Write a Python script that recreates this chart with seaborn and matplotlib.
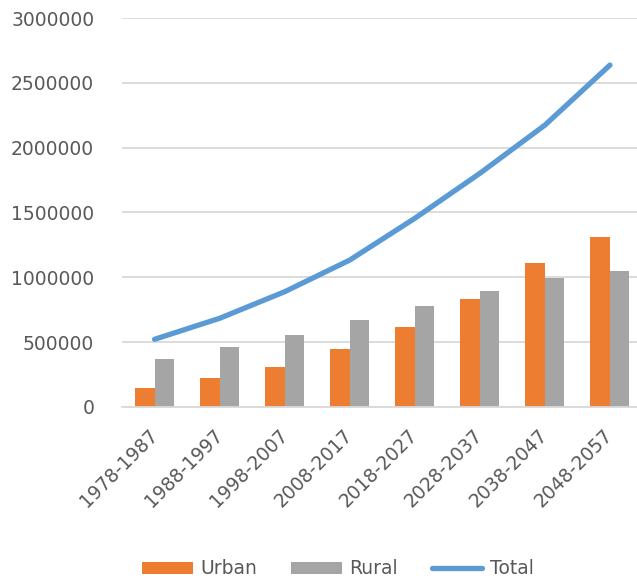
import numpy as np
import pandas as pd
import matplotlib
matplotlib.use("Agg")
import matplotlib.pyplot as plt
from matplotlib.patches import Patch
from matplotlib.lines import Line2D
import seaborn as sns

# Population by decade
periods = ["1978-1987", "1988-1997", "1998-2007", "2008-2017",
           "2018-2027", "2028-2037", "2038-2047", "2048-2057"]
urban = [149000, 226000, 311000, 445000, 619000, 833000, 1108000, 1313000]
rural = [368000, 460000, 555000, 671000, 781000, 897000, 992000, 1051000]
total = [522000, 684000, 889000, 1133000, 1455000, 1802000, 2174000, 2637000]
y_ticks = [0, 500000, 1000000, 1500000, 2000000, 2500000, 3000000]

ORANGE = "#ED7D31"
GRAY = "#A5A5A5"
BLUE = "#5B9BD5"
TEXT = "#595959"
GRID = "#D9D9D9"

sns.set_theme(style="white")
plt.rcParams["font.family"] = ["DejaVu Sans"]

df = pd.DataFrame({
    "Period": periods * 2,
    "Value": urban + rural,
    "Series": ["Urban"] * len(periods) + ["Rural"] * len(periods),
})

W, H = 637, 581
fig = plt.figure(figsize=(W / 100, H / 100), dpi=100)
left, right = 122, 642.5
top, bottom = 18, 407
ax = fig.add_axes([left / W, 1 - bottom / H, (right - left) / W, (bottom - top) / H])

sns.barplot(data=df, x="Period", y="Value", hue="Series",
            palette={"Urban": ORANGE, "Rural": GRAY},
            width=0.6, gap=0, saturation=1, errorbar=None, ax=ax, legend=False,
            linewidth=0, edgecolor="none")
sns.pointplot(x=periods, y=total, color=BLUE, markers="", linestyles="-",
              linewidth=3.8, errorbar=None, ax=ax)
for ln in ax.lines:
    ln.set_solid_capstyle("round")
    ln.set_solid_joinstyle("round")

ax.set_xlim(-0.5, 7.5)
ax.set_ylim(0, 3000000)
ax.set_yticks(y_ticks)
ax.set_yticklabels([str(v) for v in y_ticks])
ax.set_xlabel("")
ax.set_ylabel("")
ax.yaxis.grid(True, color=GRID, linewidth=1.3)
ax.set_axisbelow(True)
for s in ["top", "right", "left"]:
    ax.spines[s].set_visible(False)
ax.spines["bottom"].set_color(GRID)
ax.spines["bottom"].set_linewidth(1.3)

ax.tick_params(axis="y", length=0, pad=20, labelsize=13.5, labelcolor=TEXT)
ax.tick_params(axis="x", length=0, pad=18, labelsize=13.5, labelcolor=TEXT)
for lab in ax.get_xticklabels():
    lab.set_rotation(45)
    lab.set_ha("right")
    lab.set_rotation_mode("anchor")
    lab.set_va("center")

handles = [Patch(facecolor=ORANGE, edgecolor="none"),
           Patch(facecolor=GRAY, edgecolor="none"),
           Line2D([], [], color=BLUE, linewidth=3.8)]
fig.legend(handles, ["Urban", "Rural", "Total"], loc="center",
           bbox_to_anchor=(338 / W, 1 - 569 / H), ncol=3, frameon=False,
           fontsize=13.5, labelcolor=TEXT, handlelength=2.7, handleheight=0.65,
           handletextpad=0.4, columnspacing=1.8)

fig.savefig("out.png", dpi=100)
